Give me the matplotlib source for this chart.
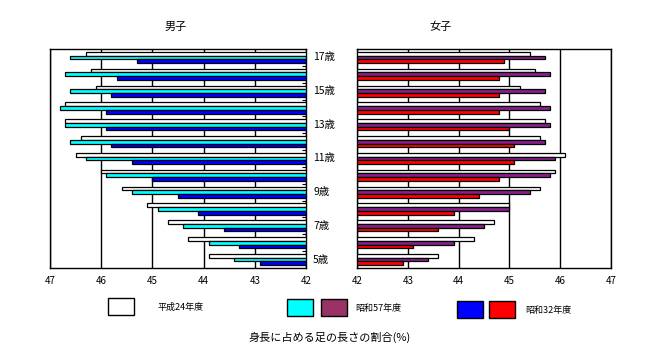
import numpy as np
import matplotlib
matplotlib.use("Agg")
import matplotlib.pyplot as plt
from matplotlib.patches import Rectangle

plt.rcParams['font.family'] = ['Noto Sans CJK JP', 'DejaVu Sans']

# ages from top to bottom
ages = [17, 16, 15, 14, 13, 12, 11, 10, 9, 8, 7, 6, 5]
age_labels = ["17歳", "15歳", "13歳", "11歳", "9歳", "7歳", "5歳"]
series_names = ["平成24年度", "昭和57年度", "昭和32年度"]

# boys (男子), leg length share of height (%)
boys_h24 = [46.3, 46.2, 46.1, 46.7, 46.7, 46.4, 46.5, 46.0, 45.6, 45.1, 44.7, 44.3, 43.9]
boys_s57 = [46.6, 46.7, 46.6, 46.8, 46.7, 46.6, 46.3, 45.9, 45.4, 44.9, 44.4, 43.9, 43.4]
boys_s32 = [45.3, 45.7, 45.8, 45.9, 45.9, 45.8, 45.4, 45.0, 44.5, 44.1, 43.6, 43.3, 42.9]

# girls (女子)
girls_h24 = [45.4, 45.5, 45.2, 45.6, 45.7, 45.6, 46.1, 45.9, 45.6, 45.0, 44.7, 44.3, 43.6]
girls_s57 = [45.7, 45.8, 45.7, 45.8, 45.8, 45.7, 45.9, 45.8, 45.4, 45.0, 44.5, 43.9, 43.4]
girls_s32 = [44.9, 44.8, 44.8, 44.8, 45.0, 45.1, 45.1, 44.8, 44.4, 43.9, 43.6, 43.1, 42.9]

boys_colors = ["white", "#00FFFF", "#0000FF"]
girls_colors = ["white", "#8A1F8A", "#FF0000"]
legend_colors = ["white", "#00FFFF", "#993366", "#0000FF", "#FF0000"]

XMIN, XMAX = 42, 47

fig = plt.figure(figsize=(6.47, 3.61), dpi=100)
ax_b = fig.add_axes([50/647, 1 - 268/361, 256/647, 219/361])
ax_g = fig.add_axes([357/647, 1 - 268/361, 254/647, 219/361])

n = len(ages)
y = np.arange(n)[::-1]  # 17 at top
h = 0.22
offsets = [h, 0, -h]


def draw(ax, series, colors):
    for s, c, off in zip(series, colors, offsets):
        vals = np.array(s) - XMIN
        ax.barh(y + off, vals, height=h, left=XMIN, color=c,
                edgecolor="black", linewidth=0.9, zorder=3)
    ax.set_xlim(XMIN, XMAX)
    ax.set_ylim(-0.5, n - 0.5)
    ax.set_xticks(range(XMIN, XMAX + 1))
    ax.grid(axis="x", color="black", linewidth=1.0, zorder=0)
    ax.set_yticks([])
    for sp in ax.spines.values():
        sp.set_linewidth(1.0)
    ax.tick_params(axis="x", length=0, labelsize=7, pad=6)


draw(ax_b, [boys_h24, boys_s57, boys_s32], boys_colors)
draw(ax_g, [girls_h24, girls_s57, girls_s32], girls_colors)
ax_b.invert_xaxis()

# small inward ticks on the boys' right spine at group boundaries
ax_b.yaxis.tick_right()
ax_b.set_yticks(np.arange(n - 1) + 0.5, minor=True)
ax_b.tick_params(axis="y", which="minor", direction="in", length=3, width=0.8, right=True)

# panel titles
fig.text(176/647, 1 - 27/361, "男子", fontsize=8, ha="center", va="center")
fig.text(441/647, 1 - 27/361, "女子", fontsize=8, ha="center", va="center")

# age labels between the panels
for lab in age_labels:
    a = int(lab.replace("歳", ""))
    yy = y[ages.index(a)]
    _, ydisp = ax_b.transData.transform((XMIN, yy))
    fig.text(313/647, ydisp / fig.dpi / 3.61, lab, fontsize=7.5, va="center", ha="left")

# legend drawn manually
boxes = [(108, 298, 0), (287, 299, 1), (321, 299, 2), (457, 301, 3), (489, 301, 4)]
for x0, y0, ci in boxes:
    fig.patches.append(Rectangle((x0/647, 1 - (y0 + 17)/361), 26/647, 17/361,
                                 transform=fig.transFigure, facecolor=legend_colors[ci],
                                 edgecolor="black", linewidth=1.0))
fig.text(157/647, 1 - 307/361, series_names[0], fontsize=6.5, va="center")
fig.text(355/647, 1 - 308/361, series_names[1], fontsize=6.5, va="center")
fig.text(525/647, 1 - 310/361, series_names[2], fontsize=6.5, va="center")

fig.text(330/647, 1 - 337/361, "身長に占める足の長さの割合(%)", fontsize=8,
         ha="center", va="center")

fig.savefig("out.png", dpi=100)
